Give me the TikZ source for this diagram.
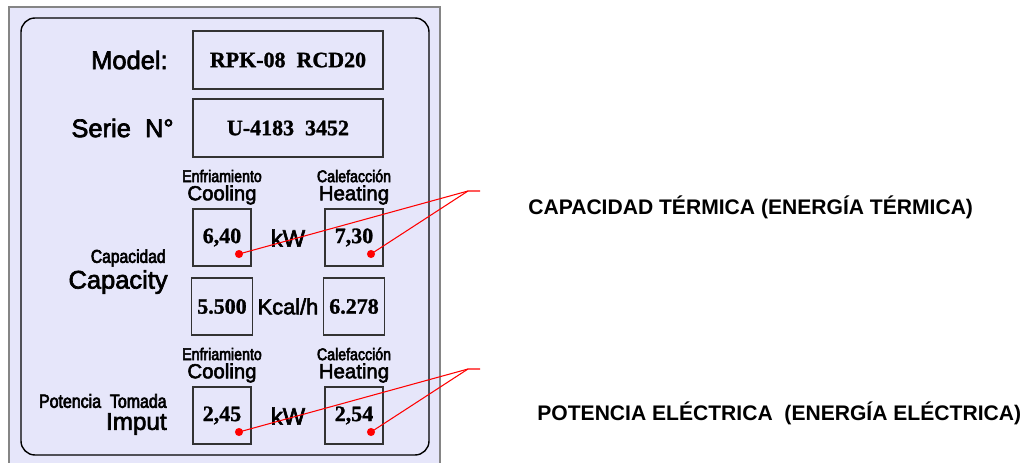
\documentclass[tikz,border=0pt]{standalone}
\usepackage{fontspec}
\setmainfont{Liberation Sans}
\newfontfamily\labelfont{Liberation Sans}[FakeBold=2.6]
\newfontfamily\valuefont{Liberation Serif}[FakeBold=1.2]
\newfontfamily\narrowfont{Liberation Sans}[FakeStretch=0.84, FakeBold=3.2]
\usepackage{xcolor}
\usepackage{tikz}
\usetikzlibrary{positioning}

\definecolor{plate}{HTML}{E6E6FA}
\definecolor{frame}{HTML}{858585}

\begin{document}
\begin{tikzpicture}[
    x=0.02cm, y=-0.02cm,
    field/.style={rectangle, draw=black!80, line width=0.6pt, minimum width=3.8cm, minimum height=1.16cm, font=\valuefont\bfseries\fontsize{12.5}{14}\selectfont},
    cell/.style={field, minimum width=1.16cm, minimum height=1.14cm},
    caption/.style={inner sep=0pt, anchor=east, font=\labelfont\fontsize{14.5}{16}\selectfont},
    subhead/.style={inner sep=0pt, font=\narrowfont\fontsize{9.6}{11}\selectfont},
    head/.style={inner sep=0pt, font=\labelfont\fontsize{11.6}{13}\selectfont},
    unit/.style={inner sep=0pt, font=\labelfont\fontsize{13.5}{15}\selectfont},
    note/.style={inner sep=0pt, anchor=west, font=\bfseries\fontsize{12}{14}\selectfont},
    dot/.style={circle, fill=red, inner sep=0pt, minimum size=4.6pt},
    leader/.style={red, line width=0.6pt}
]
\useasboundingbox (0,0) rectangle (1029,463);

% plate and rounded panel
\draw[frame, line width=1.3pt, fill=plate] (9,7) rectangle (440,490);
\draw[line width=0.8pt, rounded corners=0.28cm] (21,18) rectangle (429,455);

% model and serial number
\node[caption] (modellabel) at (168,60) {Model:};
\node[field] (model) at (288,60) {RPK-08\enspace RCD20};
\node[caption] (serielabel) at (174,128) {Serie\ \ N°};
\node[field] (serie) at (288,128) {U-4183\enspace 3452};

% capacity
\node[subhead] (enfA) at (222,176) {Enfriamiento};
\node[head] (coolA) at (222,195) {Cooling};
\node[subhead] (calA) at (354,176) {Calefacción};
\node[head] (heatA) at (354,195) {Heating};
\node[subhead, anchor=east, font=\narrowfont\fontsize{10.6}{12}\selectfont] (caplabel) at (166,258) {Capacidad};
\node[caption] (capacity) at (168,282) {Capacity};
\node[cell] (coolkw) at (222,237.5) {6,40};
\node[cell] (heatkw) at (354,237.5) {7,30};
\node[unit] (kwA) at (288,238) {kW};
\node[cell] (coolkcal) at (222,306.5) {5.500};
\node[cell] (heatkcal) at (354,306.5) {6.278};
\node[unit, font=\labelfont\fontsize{12.4}{14}\selectfont] (kcal) at (288,306.5) {Kcal/h};

% power input
\node[subhead] (enfB) at (222,354) {Enfriamiento};
\node[head] (coolB) at (222,373) {Cooling};
\node[subhead] (calB) at (354,354) {Calefacción};
\node[head] (heatB) at (354,373) {Heating};
\node[subhead, anchor=east, font=\narrowfont\fontsize{10.8}{12}\selectfont] (potlabel) at (167,401) {Potencia\ \ Tomada};
\node[caption, font=\labelfont\fontsize{13.8}{16}\selectfont] (imput) at (167,424) {Imput};
\node[cell] (coolin) at (222,415.5) {2,45};
\node[cell] (heatin) at (354,415.5) {2,54};
\node[unit] (kwB) at (288,416) {kW};

% leader dots and lines
\node[dot] (dotA) at (239,254) {};
\node[dot] (dotB) at (371,254) {};
\node[dot] (dotC) at (239,432) {};
\node[dot] (dotD) at (371,432) {};
\coordinate (apexA) at (468,191);
\coordinate (stubA) at (480,191);
\coordinate (apexB) at (468,369);
\coordinate (stubB) at (480,369);
\draw[leader] (stubA) -- (apexA) -- (dotA.center);
\draw[leader] (apexA) -- (dotB.center);
\draw[leader] (stubB) -- (apexB) -- (dotC.center);
\draw[leader] (apexB) -- (dotD.center);

\node[note] (capnote) at (528,207) {CAPACIDAD TÉRMICA (ENERGÍA TÉRMICA)};
\node[note] (potnote) at (537,413) {POTENCIA ELÉCTRICA\ \ (ENERGÍA ELÉCTRICA)};
\end{tikzpicture}
\end{document}
